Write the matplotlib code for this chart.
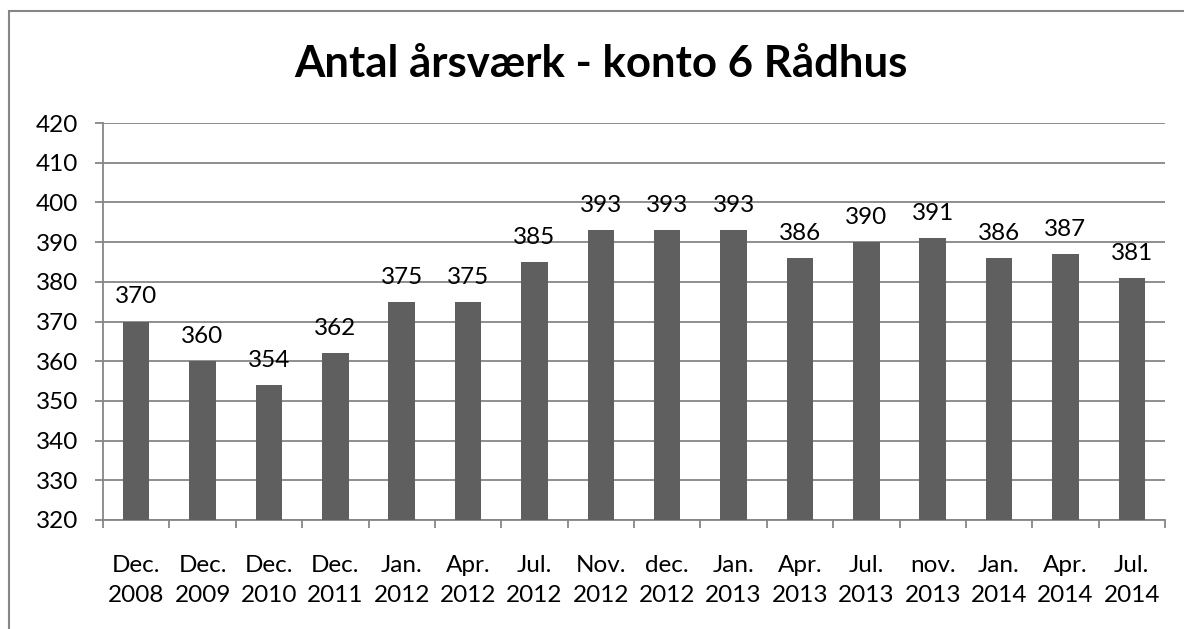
import matplotlib
matplotlib.use("Agg")
import matplotlib.pyplot as plt
from matplotlib.patches import Rectangle
import numpy as np

categories = ["Dec.\n2008", "Dec.\n2009", "Dec.\n2010", "Dec.\n2011", "Jan.\n2012",
              "Apr.\n2012", "Jul.\n2012", "Nov.\n2012", "dec.\n2012", "Jan.\n2013",
              "Apr.\n2013", "Jul.\n2013", "nov.\n2013", "Jan.\n2014", "Apr.\n2014",
              "Jul.\n2014"]
values = [370, 360, 354, 362, 375, 375, 385, 393, 393, 393, 386, 390, 391, 386, 387, 381]
title = "Antal årsværk - konto 6 Rådhus"
yticks = list(range(320, 421, 10))

plt.rcParams['font.family'] = ['Lato', 'DejaVu Sans']

W, H = 1184, 629
fig = plt.figure(figsize=(W / 100, H / 100), dpi=100)
ax = fig.add_axes([103 / W, 1 - 520 / H, (1165 - 103) / W, (520 - 123) / H])

grid_c = "#868686"
bar_c = "#5f5f5f"
fs = 17.5

x = np.arange(len(values))
ax.bar(x, [v - 320 for v in values], bottom=320, width=0.4, color=bar_c, zorder=3)
ax.set_xlim(-0.5, len(values) - 0.5)
ax.set_ylim(320, 420)
ax.set_yticks(yticks)
ax.set_yticklabels([str(t) for t in yticks], fontsize=fs)
ax.yaxis.grid(True, color=grid_c, linewidth=1.3, zorder=0)
ax.set_axisbelow(True)

ax.set_xticks(x)
ax.set_xticklabels(categories, fontsize=fs, linespacing=1.55)
ax.set_xticks(np.arange(-0.5, len(values)), minor=True)
ax.tick_params(axis='x', which='major', length=0, pad=25)
ax.tick_params(axis='x', which='minor', length=6, color=grid_c, width=1.3)
ax.tick_params(axis='y', length=6, color=grid_c, width=1.3, pad=12)

for s in ['top', 'right']:
    ax.spines[s].set_visible(False)
for s in ['left', 'bottom']:
    ax.spines[s].set_color(grid_c)
    ax.spines[s].set_linewidth(1.3)

for xi, v in zip(x, values):
    ax.annotate(str(v), (xi, v), xytext=(0, 13), textcoords='offset points',
                ha='center', va='baseline', fontsize=fs, zorder=4)

fig.text(601 / W, 1 - 77 / H, title, ha='center', va='baseline',
         fontsize=31.5, fontweight='bold')

fig.patches.append(Rectangle((8.5 / W, -0.1), 1.2, 1 - 10.5 / H + 0.1,
                             transform=fig.transFigure, fill=False,
                             edgecolor=grid_c, linewidth=1.5))

fig.savefig("out.png", dpi=100)
